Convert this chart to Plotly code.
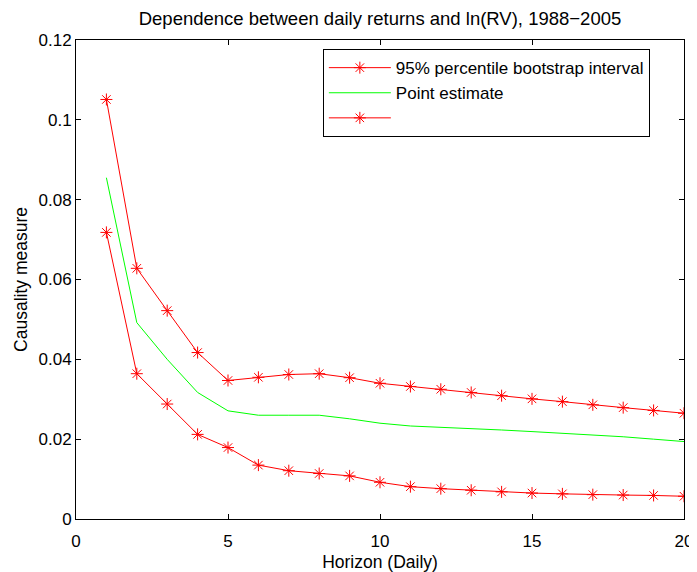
import plotly.graph_objects as go

horizon = list(range(1, 21))
upper = [0.1051, 0.0628, 0.0522, 0.0417, 0.0347, 0.0355, 0.0362, 0.0364, 0.0354, 0.0340,
         0.0332, 0.0325, 0.0317, 0.0309, 0.0301, 0.0294, 0.0286, 0.0279, 0.0272, 0.0265]
point = [0.0855, 0.0492, 0.0400, 0.0317, 0.0271, 0.0260, 0.0260, 0.0260, 0.0251, 0.0240,
         0.0233, 0.0230, 0.0226, 0.0223, 0.0219, 0.0215, 0.0211, 0.0206, 0.0200, 0.0194]
lower = [0.0718, 0.0364, 0.0288, 0.0212, 0.0179, 0.0135, 0.0121, 0.0114, 0.0108, 0.0092,
         0.0081, 0.0076, 0.0072, 0.0068, 0.0065, 0.0063, 0.0061, 0.0060, 0.0059, 0.0057]

star = dict(symbol="asterisk-open", size=10, color="#ff0000", line=dict(color="#ff0000", width=1))

fig = go.Figure()
fig.add_trace(go.Scatter(x=horizon, y=upper, mode="lines+markers", name="95% percentile bootstrap interval",
                         line=dict(color="#ff0000", width=1), marker=star))
fig.add_trace(go.Scatter(x=horizon, y=point, mode="lines", name="Point estimate",
                         line=dict(color="#00ff00", width=1)))
fig.add_trace(go.Scatter(x=horizon, y=lower, mode="lines+markers", name=" ",
                         line=dict(color="#ff0000", width=1), marker=star))

axis_style = dict(showline=True, linecolor="black", linewidth=1, mirror="ticks",
                  ticks="inside", ticklen=5, tickcolor="black", showgrid=False, zeroline=False,
                  automargin=False, ticklabeloverflow="allow", tickfont=dict(size=17, color="black"))

fig.update_xaxes(range=[0, 20], tickvals=[0, 5, 10, 15, 20], ticklabelstandoff=7,
                 title=dict(text="Horizon (Daily)", font=dict(size=17.5, color="black"), standoff=6),
                 **axis_style)
fig.update_yaxes(range=[0, 0.12], tickvals=[0, 0.02, 0.04, 0.06, 0.08, 0.1, 0.12],
                 ticktext=["0", "0.02", "0.04", "0.06", "0.08", "0.1", "0.12"],
                 title=dict(text="Causality measure", font=dict(size=17.5, color="black"), standoff=6),
                 **axis_style)

# page body has an 8px margin, so the div is offset; margins put the axes where the reference has them
fig.update_layout(
    width=689, height=564,
    title=dict(text="Dependence between daily returns and ln(RV), 1988\u22122005",
               xref="paper", x=0.5, xanchor="center", yref="container", y=0.982, yanchor="middle",
               font=dict(size=18.5, color="black")),
    font=dict(family="Liberation Sans, Arial, sans-serif", color="black"),
    legend=dict(x=0.406, y=0.981, xanchor="left", yanchor="top",
                bordercolor="black", borderwidth=1, bgcolor="white", itemwidth=62,
                font=dict(size=17, color="black"), tracegroupgap=0),
    margin=dict(l=68, r=13, t=32, b=53),
    paper_bgcolor="white", plot_bgcolor="white",
)

fig.write_html("out.html")
